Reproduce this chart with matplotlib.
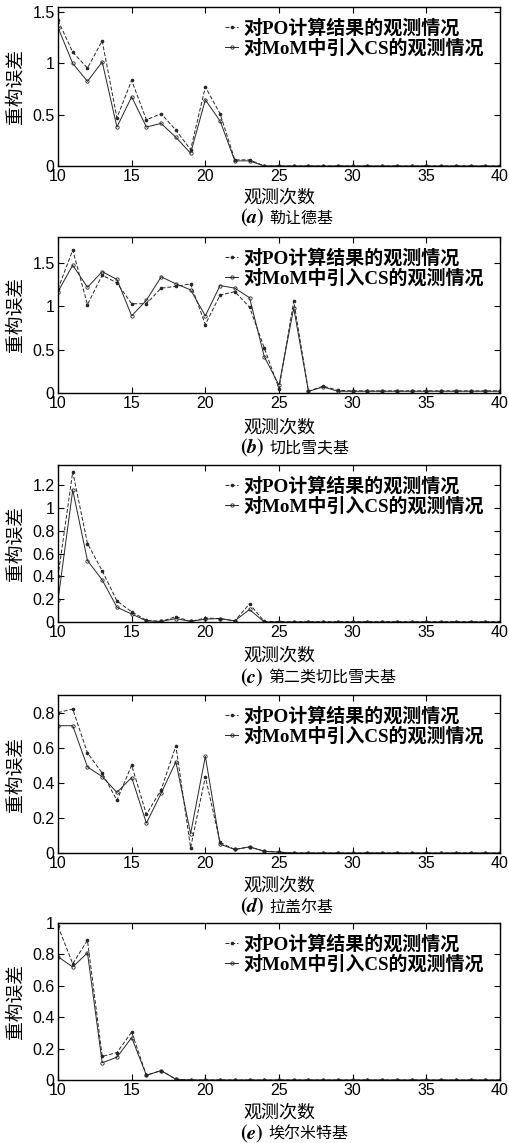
import matplotlib
matplotlib.use("Agg")
import matplotlib.pyplot as plt

plt.rcParams['mathtext.fontset'] = 'stix'

x = list(range(10, 41))

# (a) Legendre
po_a = [1.42, 1.11, 0.955, 1.22, 0.47, 0.835, 0.45, 0.51, 0.35, 0.16, 0.77, 0.51, 0.06, 0.06, 0.0] + [0.0] * 16
mom_a = [1.35, 1.0, 0.825, 1.015, 0.38, 0.675, 0.38, 0.415, 0.28, 0.125, 0.645, 0.44, 0.05, 0.05, 0.0] + [0.0] * 16

# (b) Chebyshev
po_b = [1.20, 1.65, 1.02, 1.36, 1.27, 1.03, 1.03, 1.21, 1.23, 1.26, 0.79, 1.13, 1.17, 0.99, 0.52, 0.05, 1.06,
        0.02, 0.08, 0.03] + [0.025] * 11
mom_b = [1.17, 1.475, 1.22, 1.40, 1.31, 0.89, 1.07, 1.34, 1.26, 1.19, 0.89, 1.24, 1.21, 1.10, 0.42, 0.09, 0.98,
         0.02, 0.07, 0.02] + [0.02] * 11

# (c) Chebyshev 2nd kind
po_c = [0.40, 1.32, 0.69, 0.45, 0.185, 0.09, 0.015, 0.005, 0.047, 0.005, 0.035, 0.03, 0.01, 0.16, 0.005] + [0.003] * 16
mom_c = [0.19, 1.16, 0.54, 0.37, 0.13, 0.07, 0.01, 0.005, 0.03, 0.005, 0.025, 0.03, 0.01, 0.11, 0.0] + [0.0] * 16

# (d) Laguerre
po_d = [0.80, 0.82, 0.57, 0.455, 0.30, 0.50, 0.22, 0.36, 0.61, 0.03, 0.435, 0.06, 0.02, 0.035, 0.01, 0.005] + [0.0] * 15
mom_d = [0.725, 0.725, 0.49, 0.435, 0.345, 0.43, 0.17, 0.34, 0.52, 0.11, 0.55, 0.05, 0.02, 0.035, 0.01, 0.005] + [0.0] * 15

# (e) Hermite
po_e = [0.98, 0.74, 0.89, 0.15, 0.175, 0.305, 0.03, 0.06, 0.005] + [0.0] * 22
mom_e = [0.785, 0.72, 0.81, 0.11, 0.145, 0.27, 0.03, 0.06, 0.005] + [0.0] * 22

letters = ['a', 'b', 'c', 'd', 'e']
names = ['勒让德基', '切比雪夫基', '第二类切比雪夫基', '拉盖尔基', '埃尔米特基']
ylims = [1.55, 1.8, 1.38, 0.9, 1.0]
yticks = [[0, 0.5, 1, 1.5], [0, 0.5, 1, 1.5], [0, 0.2, 0.4, 0.6, 0.8, 1.0, 1.2],
          [0, 0.2, 0.4, 0.6, 0.8], [0, 0.2, 0.4, 0.6, 0.8, 1.0]]
xticks = [10, 15, 20, 25, 30, 35, 40]
legend_labels = ['对PO计算结果的观测情况', '对MoM中引入CS的观测情况']
xlabel = '观测次数'
ylabel = '重构误差'

po_all = [po_a, po_b, po_c, po_d, po_e]
mom_all = [mom_a, mom_b, mom_c, mom_d, mom_e]

W, H = 509, 1143
fig = plt.figure(figsize=(W / 100, H / 100), dpi=100)

boxes = [(7, 166), (237, 393), (465, 622), (695, 853), (923, 1080)]
caption_y = [218, 448, 678, 907, 1134]
xlabel_y = [197, 427, 655, 885, 1112]
L, R = 58, 500

cjk = ['Noto Sans CJK SC', 'DejaVu Sans']
leg_font = ['Liberation Serif', 'Noto Sans CJK SC']
tick_font = 'Liberation Sans'
col = '#262626'


def fmt(v):
    return '%g' % v


for i in range(5):
    top, bot = boxes[i]
    hpx = bot - top
    ax = fig.add_axes([L / W, 1 - bot / H, (R - L) / W, hpx / H])
    ax.plot(x, po_all[i], linestyle=(0, (4, 2)), color=col, linewidth=0.7,
            marker='.', markersize=3.2, label=legend_labels[0])
    ax.plot(x, mom_all[i], linestyle='-', color=col, linewidth=0.7,
            marker='o', markersize=2.4, mfc='none', mew=0.6, label=legend_labels[1])
    ax.set_xlim(10, 40)
    ax.set_ylim(0, ylims[i])
    ax.set_xticks(xticks)
    ax.set_xticklabels([str(t) for t in xticks], fontfamily=tick_font, fontsize=11.5)
    ax.set_yticks(yticks[i])
    ax.set_yticklabels([fmt(t) for t in yticks[i]], fontfamily=tick_font, fontsize=11.5)
    ax.tick_params(direction='in', length=4, width=0.8, top=True, right=True, pad=2.5)
    for s in ax.spines.values():
        s.set_linewidth(1.0)
    ax.set_ylabel(ylabel, fontfamily=cjk, fontsize=13.5)
    ax.yaxis.set_label_coords(-(L - 26) / (R - L), 0.5)
    ax.legend(loc='upper left', bbox_to_anchor=((225 - L) / (R - L), 1 - 12 / hpx),
              borderaxespad=0, borderpad=0, frameon=False,
              handlelength=0.7, handletextpad=0.25, labelspacing=0.1,
              prop={'family': leg_font, 'size': 13.7, 'weight': 'bold'})
    fig.text((L + R) / 2 / W, 1 - xlabel_y[i] / H, xlabel, ha='center', va='center',
             fontfamily=cjk, fontsize=13)
    cy = 1 - caption_y[i] / H
    t1 = fig.text(240 / W, cy, r'$\mathbf{(}\boldsymbol{%s}\mathbf{)}$' % letters[i], ha='left',
                  va='center', fontsize=14.5)
    fig.canvas.draw()
    w1 = t1.get_window_extent(fig.canvas.get_renderer()).width
    fig.text((240 + w1 + 5) / W, cy, names[i], ha='left', va='center', fontfamily=cjk, fontsize=11.5)

fig.savefig('out.png', dpi=100)
